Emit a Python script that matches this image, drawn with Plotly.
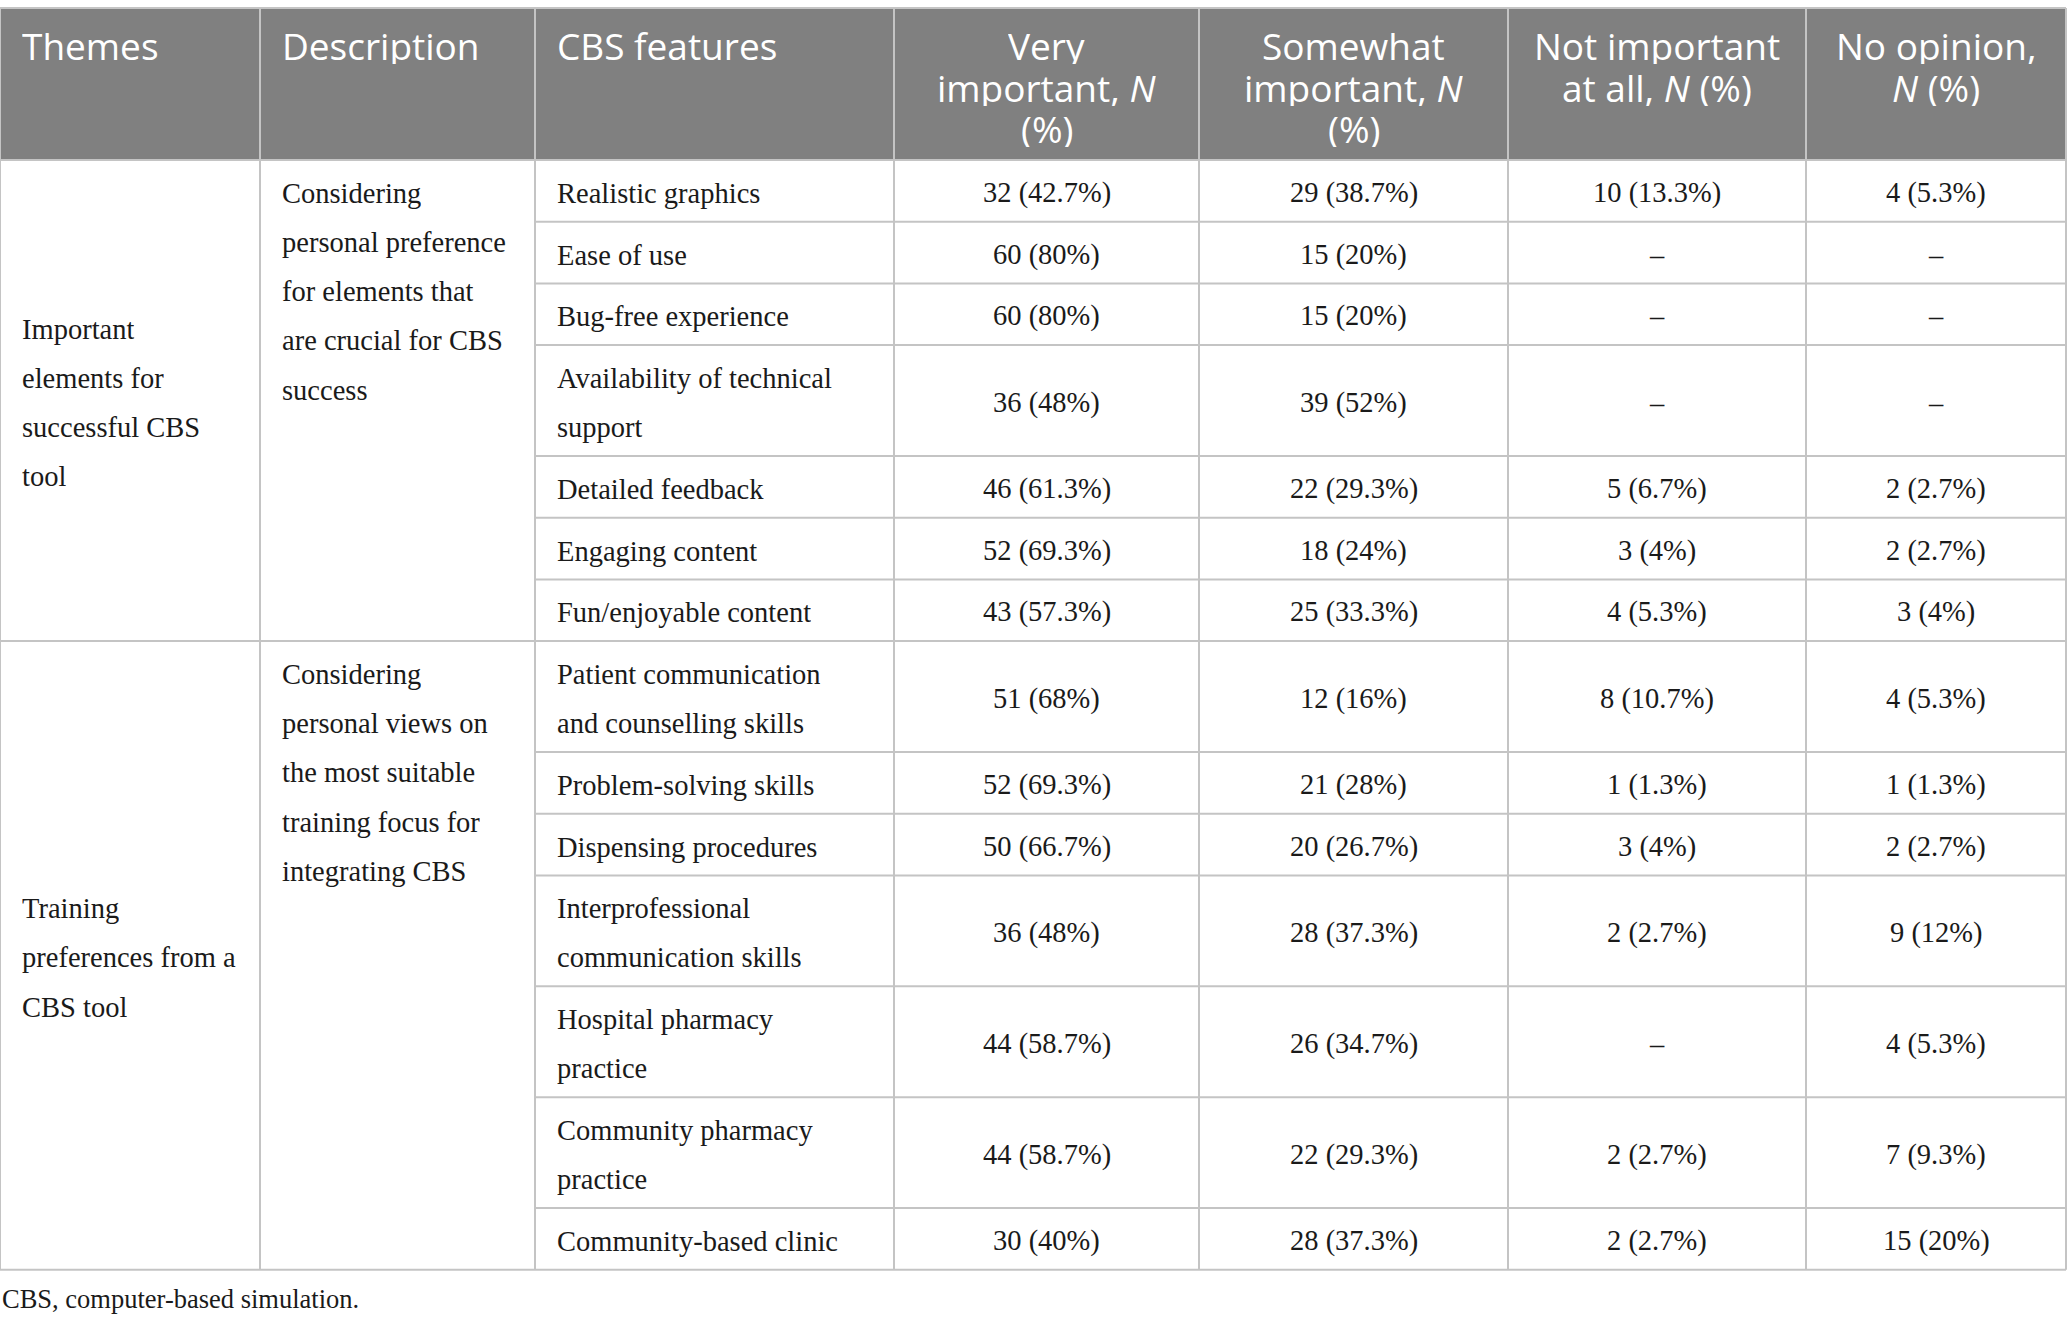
import plotly.graph_objects as go

# table content
headers = ["Themes", "Description", "CBS features",
           "Very<br>important, <i>N</i><br>(%)",
           "Somewhat<br>important, <i>N</i><br>(%)",
           "Not important<br>at all, <i>N</i> (%)",
           "No opinion,<br><i>N</i> (%)"]

themes = ["Important<br>elements for<br>successful CBS<br>tool",
          "Training<br>preferences from a<br>CBS tool"]
descriptions = ["Considering<br>personal preference<br>for elements that<br>are crucial for CBS<br>success",
                "Considering<br>personal views on<br>the most suitable<br>training focus for<br>integrating CBS"]
group_sizes = [7, 7]

features = ["Realistic graphics", "Ease of use", "Bug-free experience",
            "Availability of technical<br>support", "Detailed feedback",
            "Engaging content", "Fun/enjoyable content",
            "Patient communication<br>and counselling skills",
            "Problem-solving skills", "Dispensing procedures",
            "Interprofessional<br>communication skills",
            "Hospital pharmacy<br>practice", "Community pharmacy<br>practice",
            "Community-based clinic"]
very_important = ["32 (42.7%)", "60 (80%)", "60 (80%)", "36 (48%)", "46 (61.3%)",
                  "52 (69.3%)", "43 (57.3%)", "51 (68%)", "52 (69.3%)", "50 (66.7%)",
                  "36 (48%)", "44 (58.7%)", "44 (58.7%)", "30 (40%)"]
somewhat_important = ["29 (38.7%)", "15 (20%)", "15 (20%)", "39 (52%)", "22 (29.3%)",
                      "18 (24%)", "25 (33.3%)", "12 (16%)", "21 (28%)", "20 (26.7%)",
                      "28 (37.3%)", "26 (34.7%)", "22 (29.3%)", "28 (37.3%)"]
not_important = ["10 (13.3%)", "–", "–", "–", "5 (6.7%)", "3 (4%)", "4 (5.3%)",
                 "8 (10.7%)", "1 (1.3%)", "3 (4%)", "2 (2.7%)", "–", "2 (2.7%)", "2 (2.7%)"]
no_opinion = ["4 (5.3%)", "–", "–", "–", "2 (2.7%)", "2 (2.7%)", "3 (4%)",
              "4 (5.3%)", "1 (1.3%)", "2 (2.7%)", "9 (12%)", "4 (5.3%)", "7 (9.3%)", "15 (20%)"]
footnote = "CBS, computer-based simulation."

# layout constants (pixels)
W, H = 2068, 1326
col_edges = [0, 260, 535, 894, 1199, 1508, 1806, 2066]
aligns = ["left", "left", "left", "center", "center", "center", "center"]
head_top, head_bottom = 8, 160
line_h, row_pad = 49.2, 12.5
head_line_h = 41.5
pad_x = 21
line_col = "#c4c4c4"
body_font = dict(family="Liberation Serif", size=28.5, color="#1a1a1a")
head_font = dict(family="Open Sans", size=37, color="white")

shapes = []
annotations = []


def hline(y, x0, x1):
    shapes.append(dict(type="line", xref="x", yref="y", x0=x0, x1=x1, y0=y, y1=y,
                       line=dict(color=line_col, width=2)))


def add_lines(text, col, y_first, spacing, font, box_h):
    for i, part in enumerate(text.split("<br>")):
        if aligns[col] == "left":
            x, anchor = col_edges[col] + pad_x, "left"
        else:
            x, anchor = (col_edges[col] + col_edges[col + 1]) / 2, "center"
        annotations.append(dict(x=x, y=y_first + i * spacing, xref="x", yref="y",
                                text=part, showarrow=False, xanchor=anchor,
                                yanchor="middle", font=font, height=box_h,
                                borderpad=0))


# header
shapes.append(dict(type="rect", xref="x", yref="y", x0=col_edges[0], x1=col_edges[-1],
                   y0=head_top, y1=head_bottom, fillcolor="#808080",
                   line=dict(width=0), layer="below"))
hline(head_top, col_edges[0], col_edges[-1])
for c, label in enumerate(headers):
    add_lines(label, c, head_top + 37, head_line_h, head_font, 38)

# body rows
y = head_bottom
row_tops = []
for r, feat in enumerate(features):
    n = max(len(feat.split("<br>")), 1)
    h = row_pad + n * line_h
    row_tops.append((y, h))
    mid = y + h / 2 + 2
    add_lines(feat, 2, mid - (n - 1) * line_h / 2, line_h, body_font, 40)
    for c, vals in zip(range(3, 7), [very_important, somewhat_important, not_important, no_opinion]):
        add_lines(vals[r], c, mid, line_h, body_font, 40)
    y += h

start = 0
for g, size in enumerate(group_sizes):
    top = row_tops[start][0]
    last_top, last_h = row_tops[start + size - 1]
    bottom = last_top + last_h
    for k in range(start + 1, start + size):
        hline(row_tops[k][0], col_edges[2], col_edges[-1])
    hline(bottom, col_edges[0], col_edges[-1])
    n_t = len(themes[g].split("<br>"))
    add_lines(themes[g], 0, (top + bottom) / 2 + 2 - (n_t - 1) * line_h / 2, line_h,
              body_font, 40)
    add_lines(descriptions[g], 1, top + row_pad / 2 + line_h / 2 + 2, line_h, body_font, 40)
    start += size
hline(head_bottom, col_edges[0], col_edges[-1])
table_bottom = y

for x in col_edges:
    shapes.append(dict(type="line", xref="x", yref="y", x0=x, x1=x, y0=head_top,
                       y1=table_bottom, line=dict(color=line_col, width=2)))

annotations.append(dict(x=0, y=table_bottom + 29, xref="x", yref="y", text=footnote,
                        showarrow=False, xanchor="left", yanchor="middle",
                        font=dict(family="Liberation Serif", size=26.5, color="#1a1a1a")))

fig = go.Figure()
fig.update_layout(width=W, height=H, margin=dict(l=0, r=0, t=0, b=0),
                  paper_bgcolor="white", plot_bgcolor="white",
                  xaxis=dict(range=[0, W], visible=False, fixedrange=True),
                  yaxis=dict(range=[H, 0], visible=False, fixedrange=True),
                  shapes=shapes, annotations=annotations, showlegend=False)
fig.write_html("out.html", config={"displayModeBar": False},
               post_script="document.body.style.margin='0';")
